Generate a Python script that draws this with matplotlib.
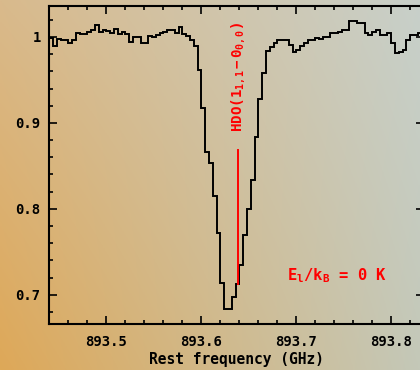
"""HDO 1_11-0_00 absorption spectrum."""

import matplotlib
matplotlib.use("Agg")
import matplotlib.pyplot as plt
import numpy as np
from matplotlib.ticker import MultipleLocator, FuncFormatter

# spectrum: regular channel grid
FREQ_START = 893.4405  # GHz, left edge of first channel
CHAN_WIDTH = 0.004     # GHz
intensity = [
    0.999, 0.990, 0.998, 0.997, 0.996, 0.993, 0.997, 1.004, 1.003, 1.003,
    1.006, 1.008, 1.014, 1.006, 1.008, 1.007, 1.004, 1.009, 1.003, 1.006,
    1.003, 0.994, 1.000, 1.000, 0.993, 0.993, 1.001, 1.000, 1.002, 1.005,
    1.006, 1.008, 1.008, 1.004, 1.011, 1.003, 1.001, 0.997, 0.990, 0.962,
    0.917, 0.866, 0.853, 0.815, 0.772, 0.714, 0.684, 0.684, 0.697, 0.713,
    0.735, 0.770, 0.800, 0.834, 0.884, 0.928, 0.958, 0.984, 0.988, 0.993,
    0.996, 0.996, 0.996, 0.991, 0.983, 0.985, 0.989, 0.993, 0.997, 0.997,
    0.999, 0.998, 1.000, 1.000, 1.004, 1.004, 1.006, 1.008, 1.008, 1.018,
    1.018, 1.016, 1.016, 1.004, 1.002, 1.006, 1.008, 1.002, 1.002, 1.004,
    0.993, 0.981, 0.983, 0.985, 0.997, 1.002, 1.002, 1.004, 1.004,
]

LINE_FREQ = 893.6386
LINE_LOW, LINE_HIGH = 0.713, 0.869
LINE_LABEL = r"HDO$(1_{1,1}-0_{0,0})$"
ENERGY_LABEL = r"E$_\mathrm{l}$/k$_\mathrm{B}$ = 0 K"

XLIM = (893.44, 893.835)
YLIM = (0.666, 1.036)

FONT = "DejaVu Sans Mono"
plt.rcParams["font.family"] = FONT
plt.rcParams["font.weight"] = "bold"
plt.rcParams["mathtext.fontset"] = "custom"
plt.rcParams["mathtext.rm"] = f"{FONT}:bold"
plt.rcParams["mathtext.it"] = f"{FONT}:bold"
plt.rcParams["mathtext.bf"] = f"{FONT}:bold"


def background(fig):
    # soft orange -> grey-blue backdrop
    tl = np.array([217, 186, 140]) / 255
    tr = np.array([200, 208, 202]) / 255
    bl = np.array([222, 168, 88]) / 255
    br = np.array([196, 200, 184]) / 255
    u = np.linspace(0, 1, 200)[None, :, None]
    v = np.linspace(0, 1, 200)[:, None, None]
    img = (1 - v) * ((1 - u) * tl + u * tr) + v * ((1 - u) * bl + u * br)
    bg = fig.add_axes([0, 0, 1, 1], zorder=-10)
    bg.imshow(img, aspect="auto", extent=[0, 1, 0, 1])
    bg.set_axis_off()


fig = plt.figure(figsize=(4.2, 3.7), dpi=100)
background(fig)
ax = fig.add_axes([0.1167, 0.1243, 0.8928, 0.8595])
ax.set_facecolor("none")

edges = FREQ_START + CHAN_WIDTH * np.arange(len(intensity) + 1)
ax.stairs(intensity, edges, color="black", linewidth=1.4)

ax.plot([LINE_FREQ, LINE_FREQ], [LINE_LOW, LINE_HIGH], color="red", linewidth=1.4)
ax.text(LINE_FREQ, 0.8895, LINE_LABEL, rotation=90, color="red", fontsize=10.2,
        ha="center", va="bottom", fontweight="bold")
ax.text(893.6905, 0.7174, ENERGY_LABEL, color="red", fontsize=11.2,
        ha="left", va="baseline", fontweight="bold")

ax.set_xlim(*XLIM)
ax.set_ylim(*YLIM)
ax.xaxis.set_major_locator(MultipleLocator(0.1))
ax.xaxis.set_minor_locator(MultipleLocator(0.02))
ax.yaxis.set_major_locator(MultipleLocator(0.1))
ax.yaxis.set_minor_locator(MultipleLocator(0.02))
ax.xaxis.set_major_formatter(FuncFormatter(lambda v, _: f"{v:g}"))
ax.yaxis.set_major_formatter(FuncFormatter(lambda v, _: f"{v:g}"))
ax.tick_params(which="both", direction="in", top=True, right=True, width=1.2)
ax.tick_params(which="major", length=6, labelsize=10)
ax.tick_params(axis="x", which="major", pad=8)
ax.tick_params(axis="y", which="major", pad=6)
ax.tick_params(which="minor", length=3)
for sp in ax.spines.values():
    sp.set_linewidth(1.5)

ax.set_xlabel("Rest frequency (GHz)", fontsize=10.5, fontweight="bold", labelpad=2)

fig.savefig("out.png", dpi=100)
